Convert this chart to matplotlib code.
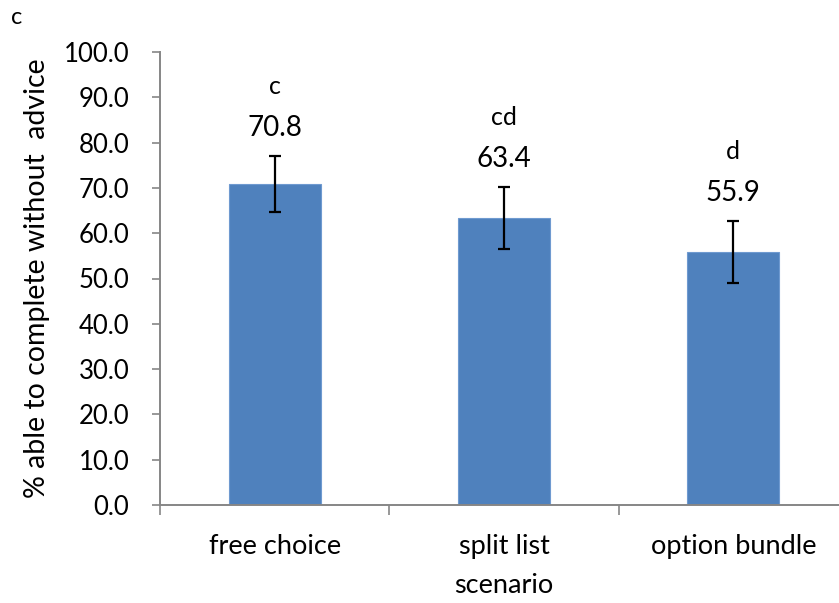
import matplotlib
matplotlib.use("Agg")
import matplotlib.pyplot as plt
import numpy as np

# data
scenarios = ["free choice", "split list", "option bundle"]
pct_no_advice = [70.8, 63.4, 55.9]
err = [6.2, 6.8, 6.8]
letters = ["c", "cd", "d"]

plt.rcParams['font.family'] = ['Lato', 'DejaVu Sans']

fig = plt.figure(figsize=(8.39, 6.03), dpi=100)
ax = fig.add_axes([160/839, 98/603, 688/839, 453/603])

x = np.arange(len(scenarios))
ax.bar(x, pct_no_advice, width=0.4, color="#4F81BD", edgecolor="#6F9AD0", linewidth=0.8,
       yerr=err, error_kw=dict(ecolor="black", elinewidth=1.6, capsize=4, capthick=1.6))

# value and letter labels above error bars
for xi, v, e, lt in zip(x, pct_no_advice, err, letters):
    ax.annotate(f"{v:.1f}", (xi, v + e), xytext=(0, 20), textcoords="offset points",
                ha="center", va="center", fontsize=20)
    ax.annotate(lt, (xi, v + e), xytext=(0, 50), textcoords="offset points",
                ha="center", va="center", fontsize=18)

ax.set_xlim(-0.5, 2.5)
ax.set_ylim(0, 100)
ax.set_yticks(np.arange(0, 101, 10))
ax.set_yticklabels([f"{t:.1f}" for t in np.arange(0, 101, 10)], fontsize=18.5)

# category boundaries get the tick marks, labels sit at the centres
ax.set_xticks([-0.5, 0.5, 1.5, 2.5])
ax.set_xticklabels([])
ax.set_xticks(x, minor=True)
ax.set_xticklabels(scenarios, minor=True, fontsize=19.5)
ax.tick_params(axis="x", which="major", length=7, color="#868686", width=1.2)
ax.tick_params(axis="x", which="minor", length=0, pad=21)
ax.tick_params(axis="y", length=6, color="#868686", width=1.2, pad=16)

for s in ["top", "right"]:
    ax.spines[s].set_visible(False)
for s in ["left", "bottom"]:
    ax.spines[s].set_color("#868686")
    ax.spines[s].set_linewidth(1.4)

ax.set_ylabel("% able to complete without  advice", fontsize=20.5, labelpad=10)
ax.set_xlabel("scenario", fontsize=19.5, labelpad=10)

fig.text(17/839, 1 - 18/603, "c", fontsize=17, ha="center", va="center")

fig.savefig("out.png", dpi=100)
